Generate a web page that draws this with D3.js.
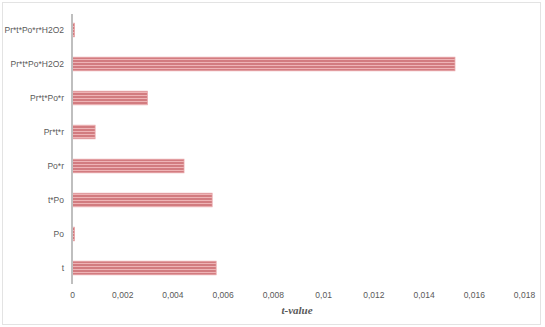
<!DOCTYPE html>
<html>
<head>
<meta charset="utf-8">
<script src="https://cdn.jsdelivr.net/npm/d3@7"></script>
<style>
  body { margin: 0; background: #fff; }
  #chart { width: 545px; height: 327px; }
</style>
</head>
<body>
<div id="chart"></div>
<script>
// categories top to bottom, and their t-values
const categories = ["Pr*t*Po*r*H2O2", "Pr*t*Po*H2O2", "Pr*t*Po*r", "Pr*t*r", "Po*r", "t*Po", "Po", "t"];
const values = [0.0001, 0.01525, 0.003, 0.00092, 0.00446, 0.00558, 0.0001, 0.00574];
const xTicks = [0, 0.002, 0.004, 0.006, 0.008, 0.01, 0.012, 0.014, 0.016, 0.018];

const W = 545, H = 327;
const svg = d3.select("#chart").append("svg")
    .attr("width", W)
    .attr("height", H);

// striped fill for the bars
const defs = svg.append("defs");
const pat = defs.append("pattern")
    .attr("id", "stripes")
    .attr("patternUnits", "userSpaceOnUse")
    .attr("width", 4)
    .attr("height", 3);
pat.append("rect").attr("width", 4).attr("height", 3).attr("fill", "#d27c80");
pat.append("rect").attr("y", 2).attr("width", 4).attr("height", 1).attr("fill", "#eeb4b6");

// outer frame
svg.append("rect")
    .attr("x", 2.5).attr("y", 2.5)
    .attr("width", 538).attr("height", 322)
    .attr("fill", "none")
    .attr("stroke", "#e3e3e3");

const x = d3.scaleLinear()
    .domain([0, 0.018])
    .range([72, 524]);

const y = d3.scaleBand()
    .domain(categories)
    .range([13, 285])
    .paddingInner(0.6)
    .paddingOuter(0.3);

// bars
svg.append("g")
    .selectAll("rect")
    .data(categories)
    .join("rect")
    .attr("x", x(0))
    .attr("y", d => y(d))
    .attr("width", (d, i) => x(values[i]) - x(0))
    .attr("height", y.bandwidth())
    .attr("fill", "url(#stripes)")
    .attr("stroke", "#e7a2a5")
    .attr("stroke-width", 0.8);

// y axis
const yAxis = svg.append("g")
    .attr("transform", `translate(${x(0)},0)`)
    .call(d3.axisLeft(y).tickSize(0).tickPadding(8));
yAxis.select(".domain").attr("stroke", "#bfbfbf").attr("stroke-width", 2)
    .attr("d", "M0,14V284");
yAxis.selectAll(".tick text")
    .attr("fill", "#595959")
    .style("font-family", "'Liberation Sans', Arial, sans-serif")
    .style("font-size", "8.5px");

// x axis (labels only)
const xAxis = svg.append("g")
    .attr("transform", "translate(0,292)")
    .call(d3.axisBottom(x).tickValues(xTicks).tickSize(0).tickPadding(0)
        .tickFormat(d => d === 0 ? "0" : d3.format(".3~f")(d).replace(".", ",")));
xAxis.select(".domain").remove();
xAxis.selectAll(".tick text")
    .attr("fill", "#595959")
    .style("font-family", "'Liberation Sans', Arial, sans-serif")
    .style("font-size", "8.5px");

// axis title
svg.append("text")
    .attr("x", 297)
    .attr("y", 314)
    .attr("text-anchor", "middle")
    .attr("fill", "#595959")
    .style("font-family", "'Liberation Serif', 'Times New Roman', serif")
    .style("font-style", "italic")
    .style("font-weight", "bold")
    .style("font-size", "11px")
    .text("t-value");
</script>
</body>
</html>
